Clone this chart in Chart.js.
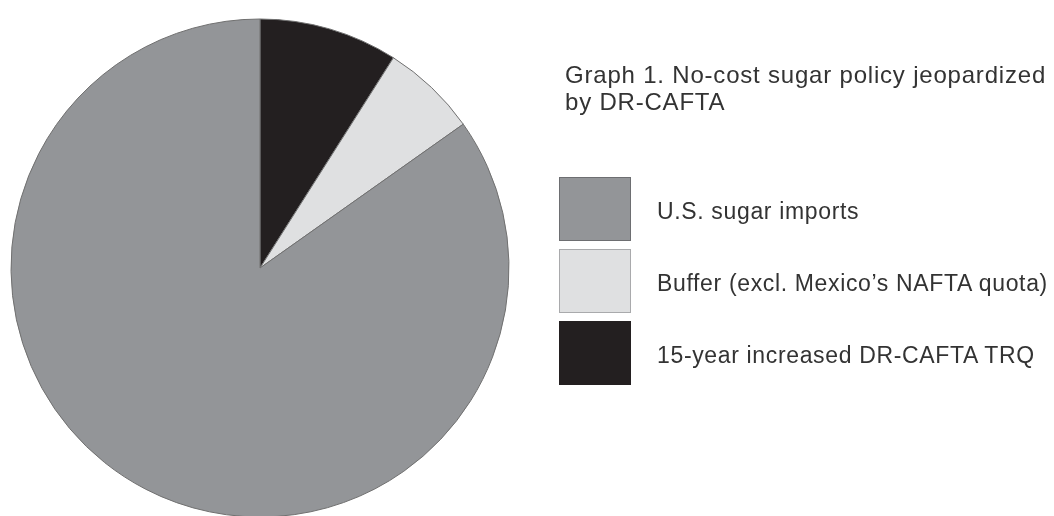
<!DOCTYPE html>
<html>
<head>
<meta charset="utf-8">
<script src="https://cdn.jsdelivr.net/npm/chart.js@4"></script>
<style>
  html, body { margin: 0; padding: 0; background: #fff; width: 1054px; height: 516px; overflow: hidden; }
  #wrap { position: absolute; left: 0; top: 0; width: 1054px; height: 540px; }
  #title { position: absolute; left: 565px; top: 61px; font-family: "Liberation Sans", Arial, sans-serif; font-size: 24px; letter-spacing: 0.8px; line-height: 27px; color: #333; }
  #legend { position: absolute; left: 559px; top: 177px; font-family: "Liberation Sans", Arial, sans-serif; font-size: 23px; letter-spacing: 0.65px; color: #333; }
  .item { position: relative; height: 64px; margin-bottom: 8px; }
  .box { position: absolute; left: 0; top: 0; width: 70px; height: 62px; border: 1px solid; }
  .lab { position: absolute; left: 98px; top: 2px; height: 64px; line-height: 64px; white-space: nowrap; }
</style>
</head>
<body>
<div id="wrap"><canvas id="c" width="1054" height="540"></canvas></div>
<div id="title"></div>
<div id="legend"></div>
<script>
const titleLines = ["Graph 1. No-cost sugar policy jeopardized", "by DR-CAFTA"];
// slice order clockwise from 12 o'clock
const categories = ["15-year increased DR-CAFTA TRQ", "Buffer (excl. Mexico\u2019s NAFTA quota)", "U.S. sugar imports"];
const values = [9.0, 6.2, 84.8];
const colors = ["#231f20", "#dfe0e1", "#939598"];
const boxBorders = ["#231f20", "#a9aaac", "#6d6e71"];
const legendOrder = [2, 1, 0];

document.getElementById('title').innerHTML = titleLines.map(t => '<div>' + t + '</div>').join('');

const leg = document.getElementById('legend');
legendOrder.forEach(i => {
  const it = document.createElement('div');
  it.className = 'item';
  const b = document.createElement('div');
  b.className = 'box';
  b.style.background = colors[i];
  b.style.borderColor = boxBorders[i];
  const l = document.createElement('div');
  l.className = 'lab';
  l.textContent = categories[i];
  it.appendChild(b); it.appendChild(l);
  leg.appendChild(it);
});

new Chart(document.getElementById('c'), {
  type: 'pie',
  data: {
    labels: categories,
    datasets: [{
      data: values,
      backgroundColor: colors,
      borderColor: '#707070',
      borderWidth: 1
    }]
  },
  options: {
    responsive: false,
    animation: false,
    devicePixelRatio: 1,
    radius: 249,
    layout: { padding: { left: 0, top: 0, right: 534, bottom: 4 } },
    plugins: { legend: { display: false }, tooltip: { enabled: false }, title: { display: false } }
  }
});
</script>
</body>
</html>
